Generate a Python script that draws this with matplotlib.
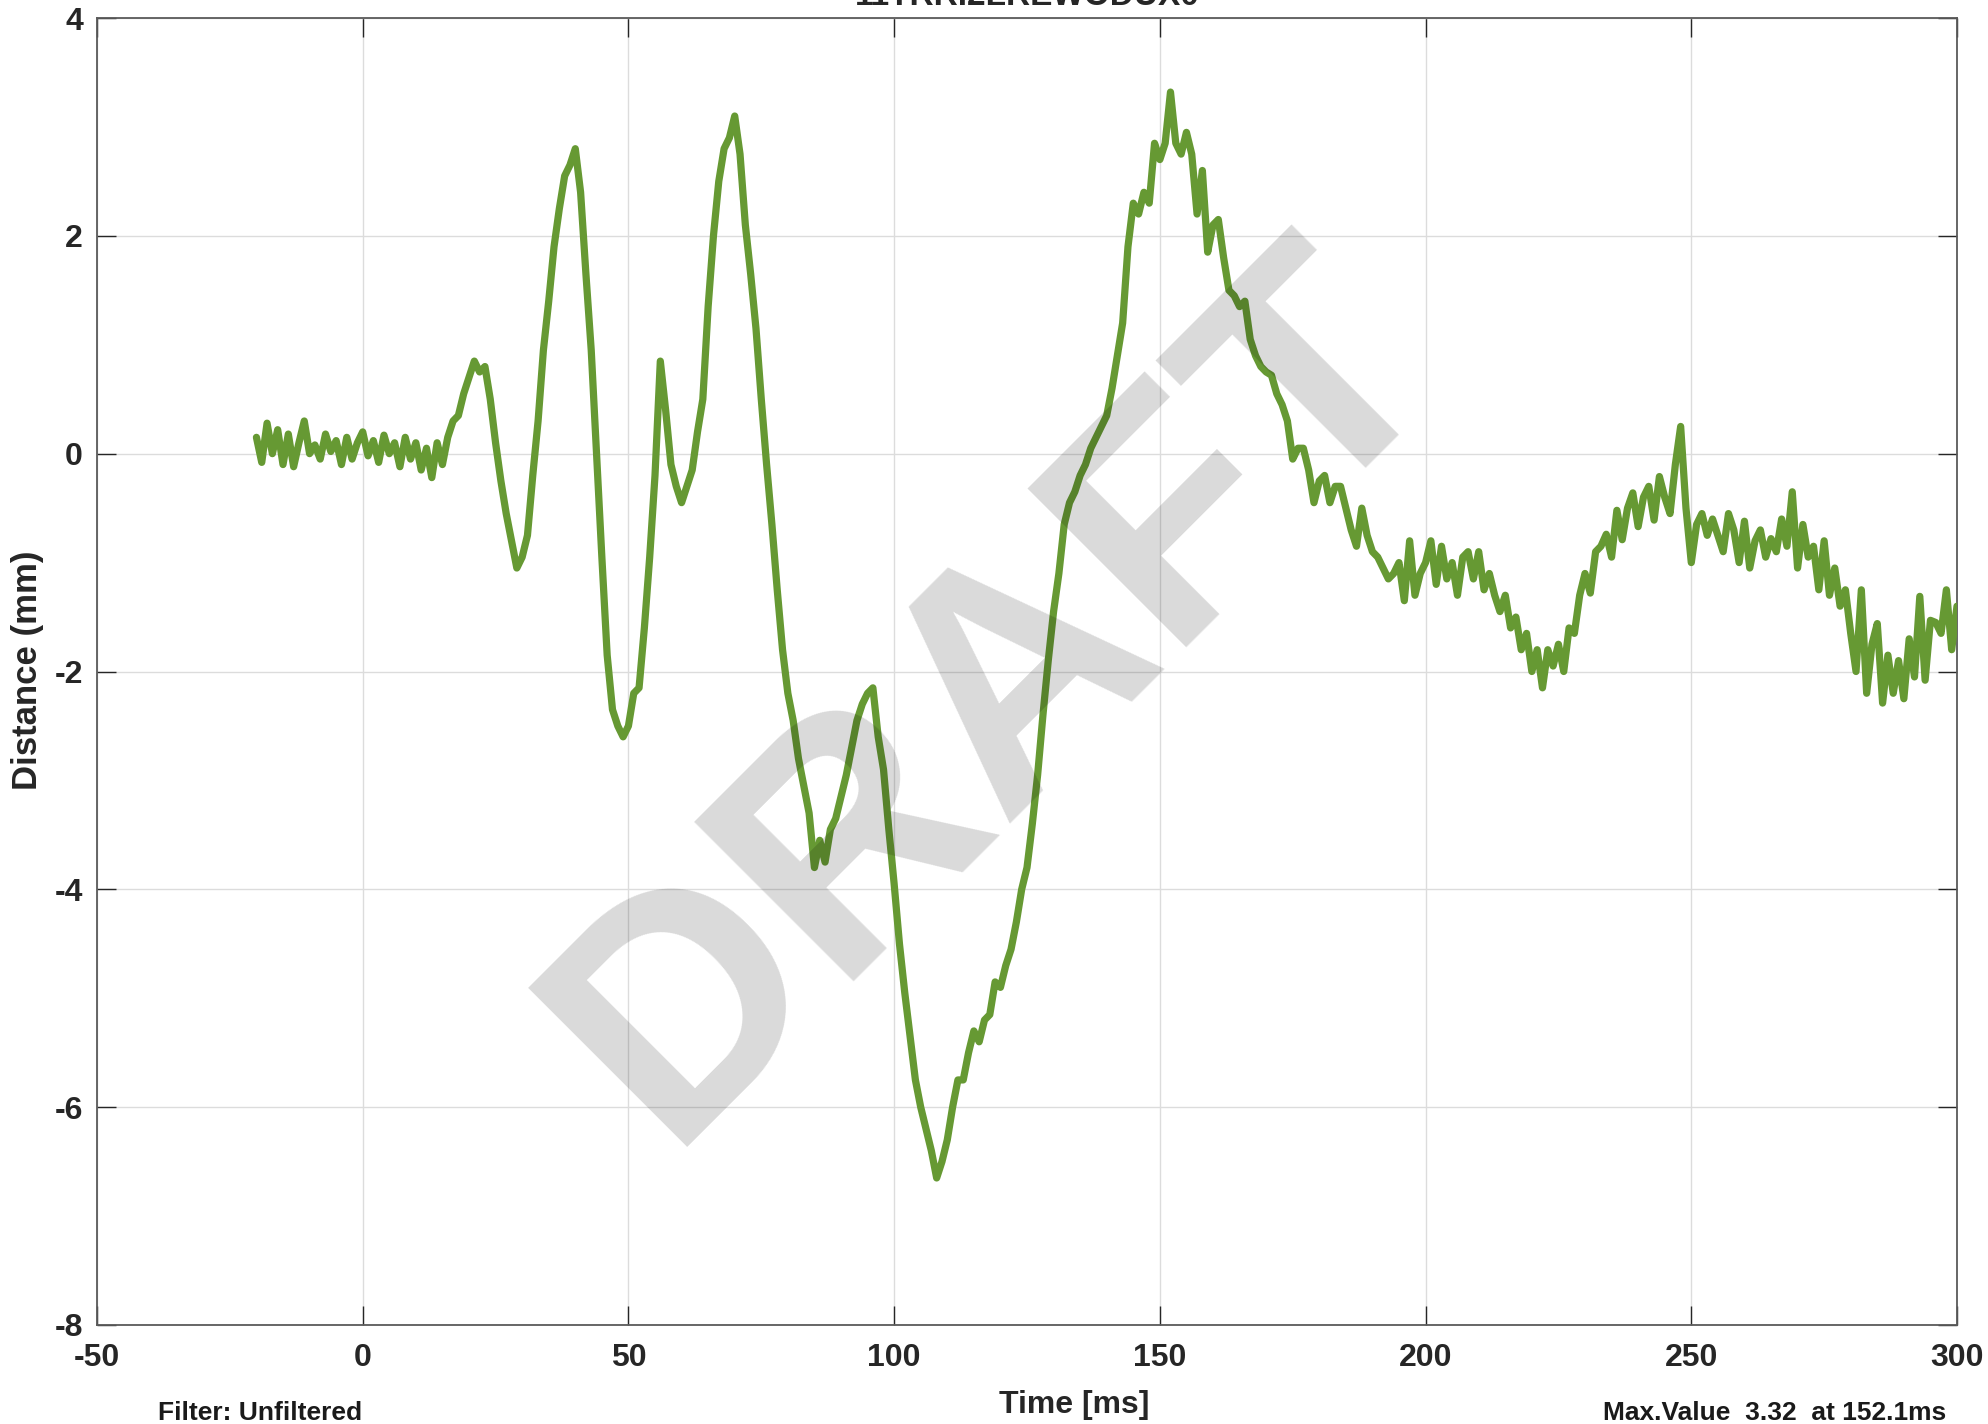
import numpy as np
import matplotlib
matplotlib.use("Agg")
import matplotlib.pyplot as plt

# Sample times (ms), one reading per millisecond
t_start_ms = -20
t_end_ms = 300

# Measured displacement (mm), t = -20 ... 300 ms
distance_mm = [
    # -20 .. -11
    0.15, -0.08, 0.28, 0.0, 0.22, -0.1, 0.18, -0.12, 0.1, 0.3,
    # -10 .. -1
    0.0, 0.08, -0.05, 0.18, 0.02, 0.12, -0.1, 0.15, -0.05, 0.1,
    # 0 .. 9
    0.2, -0.02, 0.12, -0.08, 0.17, 0.0, 0.1, -0.12, 0.15, -0.05,
    # 10 .. 19
    0.1, -0.15, 0.05, -0.22, 0.1, -0.1, 0.15, 0.3, 0.35, 0.55,
    # 20 .. 29
    0.7, 0.85, 0.75, 0.8, 0.5, 0.1, -0.25, -0.55, -0.8, -1.05,
    # 30 .. 39
    -0.95, -0.75, -0.2, 0.3, 0.95, 1.4, 1.9, 2.25, 2.55, 2.65,
    # 40 .. 49
    2.8, 2.4, 1.65, 0.95, 0.0, -0.95, -1.85, -2.35, -2.5, -2.6,
    # 50 .. 59
    -2.5, -2.2, -2.15, -1.6, -0.95, -0.2, 0.85, 0.4, -0.1, -0.3,
    # 60 .. 69
    -0.45, -0.3, -0.15, 0.2, 0.5, 1.35, 2.0, 2.5, 2.8, 2.9,
    # 70 .. 79
    3.1, 2.75, 2.1, 1.65, 1.15, 0.5, -0.1, -0.65, -1.25, -1.8,
    # 80 .. 89
    -2.2, -2.45, -2.8, -3.05, -3.3, -3.8, -3.55, -3.75, -3.45, -3.35,
    # 90 .. 99
    -3.15, -2.95, -2.7, -2.45, -2.3, -2.2, -2.15, -2.6, -2.9, -3.45,
    # 100 .. 109
    -3.95, -4.5, -4.95, -5.35, -5.75, -6.0, -6.2, -6.4, -6.65, -6.5,
    # 110 .. 119
    -6.3, -6.0, -5.75, -5.75, -5.5, -5.3, -5.4, -5.2, -5.15, -4.85,
    # 120 .. 129
    -4.9, -4.7, -4.55, -4.3, -4.0, -3.8, -3.4, -2.95, -2.4, -1.9,
    # 130 .. 139
    -1.45, -1.1, -0.65, -0.45, -0.35, -0.2, -0.1, 0.05, 0.15, 0.25,
    # 140 .. 149
    0.35, 0.6, 0.9, 1.2, 1.9, 2.3, 2.2, 2.4, 2.3, 2.85,
    # 150 .. 159
    2.7, 2.85, 3.32, 2.85, 2.75, 2.95, 2.75, 2.2, 2.6, 1.85,
    # 160 .. 169
    2.1, 2.15, 1.8, 1.5, 1.45, 1.35, 1.4, 1.05, 0.9, 0.8,
    # 170 .. 179
    0.75, 0.72, 0.55, 0.45, 0.3, -0.05, 0.05, 0.05, -0.15, -0.45,
    # 180 .. 189
    -0.25, -0.2, -0.45, -0.3, -0.3, -0.5, -0.7, -0.85, -0.5, -0.75,
    # 190 .. 199
    -0.9, -0.95, -1.05, -1.15, -1.1, -1.0, -1.35, -0.8, -1.3, -1.1,
    # 200 .. 209
    -1.0, -0.8, -1.2, -0.85, -1.15, -1.0, -1.3, -0.95, -0.9, -1.15,
    # 210 .. 219
    -0.9, -1.25, -1.1, -1.3, -1.45, -1.3, -1.6, -1.5, -1.8, -1.65,
    # 220 .. 229
    -2.0, -1.8, -2.15, -1.8, -1.95, -1.75, -2.0, -1.6, -1.65, -1.3,
    # 230 .. 239
    -1.1, -1.28, -0.9, -0.85, -0.74, -0.95, -0.52, -0.79, -0.5, -0.36,
    # 240 .. 249
    -0.67, -0.4, -0.3, -0.61, -0.21, -0.4, -0.55, -0.1, 0.25, -0.5,
    # 250 .. 259
    -1.0, -0.65, -0.55, -0.75, -0.6, -0.75, -0.9, -0.55, -0.7, -1.0,
    # 260 .. 269
    -0.62, -1.05, -0.8, -0.7, -0.95, -0.78, -0.9, -0.6, -0.85, -0.35,
    # 270 .. 279
    -1.05, -0.65, -0.95, -0.85, -1.25, -0.8, -1.3, -1.05, -1.4, -1.25,
    # 280 .. 289
    -1.65, -2.0, -1.25, -2.2, -1.75, -1.56, -2.29, -1.85, -2.2, -1.9,
    # 290 .. 300
    -2.25, -1.7, -2.05, -1.31, -2.08, -1.53, -1.55, -1.65, -1.25, -1.8, -1.4,
]

x_ticks = [-50, 0, 50, 100, 150, 200, 250, 300]
y_ticks = [-8, -6, -4, -2, 0, 2, 4]

title_text = "11TRRI2LREWODUX0"
x_label = "Time [ms]"
y_label = "Distance (mm)"
filter_text = "Filter: Unfiltered"
max_text = "Max.Value  3.32  at 152.1ms"
watermark = "DRAFT"

time_ms = np.arange(t_start_ms, t_end_ms + 1)
distance = np.array(distance_mm)

plt.rcParams["font.family"] = ["Liberation Sans", "DejaVu Sans"]
plt.rcParams["font.weight"] = "bold"

W, H = 1988, 1424
fig = plt.figure(figsize=(W / 100, H / 100), dpi=100)
fig.patch.set_facecolor("white")

ax = fig.add_axes([97 / W, 1 - 1325 / H, 1860 / W, 1307 / H])
ax.plot(time_ms, distance, color="#669933", lw=5.2,
        solid_joinstyle="round", solid_capstyle="round", zorder=3)

ax.set_xlim(-50, 300)
ax.set_ylim(-8, 4)
ax.set_xticks(x_ticks)
ax.set_yticks(y_ticks)
ax.set_xticklabels([str(v) for v in x_ticks])
ax.set_yticklabels([str(v) for v in y_ticks])

ax.grid(True, color="#dcdcdc", lw=1.0, zorder=0)
ax.set_axisbelow(True)
for side in ax.spines.values():
    side.set_color("#5a5a5a")
    side.set_linewidth(1.3)

ax.tick_params(axis="both", which="major", direction="in", length=14,
               width=1.0, color="#262626", labelcolor="#262626",
               labelsize=23, top=True, right=True)
ax.tick_params(axis="x", pad=13)
ax.tick_params(axis="y", pad=10)
for lab in ax.get_xticklabels() + ax.get_yticklabels():
    lab.set_fontweight("bold")

# Axis captions and footer notes
fig.text(28 / W, 0.529, y_label, rotation=90, ha="center", va="center",
         fontsize=25, fontweight="bold", color="#262626")
fig.text(1074 / W, 11 / H, x_label, ha="center", va="baseline",
         fontsize=23, fontweight="bold", color="#262626")
fig.text(158 / W, 4 / H, filter_text, ha="left", va="baseline",
         fontsize=19, fontweight="bold", color="#1a1a1a")
fig.text(1946 / W, 4 / H, max_text, ha="right", va="baseline",
         fontsize=19, fontweight="bold", color="#1a1a1a")

# Title sits above the top edge of the canvas
fig.text(1027 / W, 1 - 5 / H, title_text, ha="center", va="baseline",
         fontsize=24, fontweight="bold", color="#262626")

# Semi-transparent watermark across the plot
fig.text(997 / W, 1 - 697 / H, watermark, rotation=45, ha="center",
         va="center", fontsize=235, fontweight="bold", color="black",
         alpha=0.15, zorder=10)

fig.savefig("out.png", dpi=100, facecolor="white")
